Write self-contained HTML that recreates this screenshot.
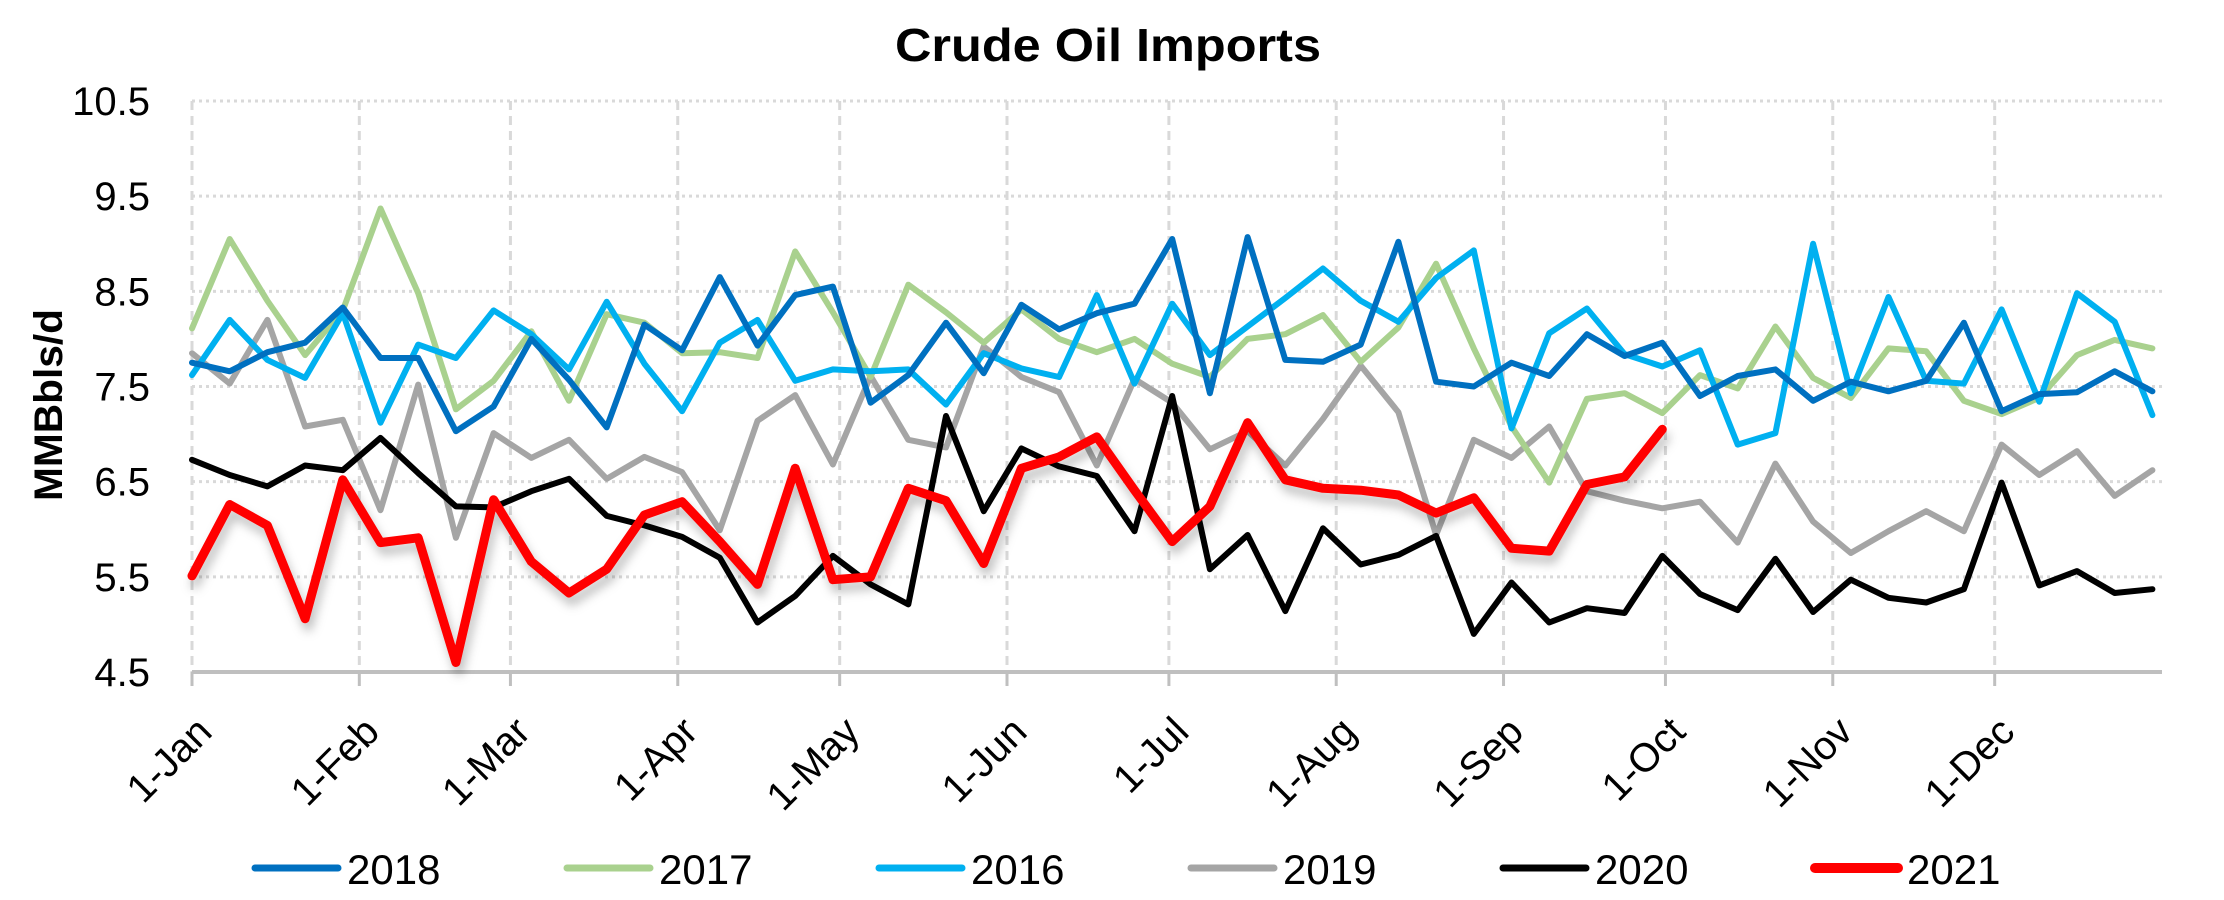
<!DOCTYPE html>
<html><head><meta charset="utf-8"><style>
html,body{margin:0;padding:0;background:#fff;}
svg{display:block;font-family:"Liberation Sans",sans-serif;}
</style></head><body>
<svg id="chart" width="2224" height="900" viewBox="0 0 2224 900" xmlns="http://www.w3.org/2000/svg">
<defs><filter id="shadow" x="-5%" y="-20%" width="110%" height="140%"><feDropShadow dx="3" dy="8" stdDeviation="5" flood-color="#000" flood-opacity="0.25"/></filter></defs>
<text x="1108" y="61" text-anchor="middle" font-size="46" font-weight="bold" textLength="426" lengthAdjust="spacingAndGlyphs">Crude Oil Imports</text>
<text transform="translate(62,405) rotate(-90)" text-anchor="middle" font-size="40" font-weight="bold" textLength="192" lengthAdjust="spacingAndGlyphs">MMBbls/d</text>
<g id="grid"></g><g id="axes"></g><g id="series"></g><g id="legend"></g>
</svg>
<script>
const yTicks = [4.5,5.5,6.5,7.5,8.5,9.5,10.5];
const monthLabels = ["1-Jan","1-Feb","1-Mar","1-Apr","1-May","1-Jun","1-Jul","1-Aug","1-Sep","1-Oct","1-Nov","1-Dec"];
const monthDays = [0,31,59,90,120,151,181,212,243,273,304,334];
const seriesNames = ["2019","2017","2016","2018","2020","2021"];
const s2018 = [7.75,7.66,7.86,7.96,8.33,7.8,7.8,7.03,7.29,8.0,7.57,7.07,8.15,7.88,8.65,7.93,8.46,8.55,7.33,7.62,8.17,7.64,8.36,8.1,8.27,8.37,9.05,7.43,9.07,7.78,7.76,7.94,9.02,7.55,7.5,7.75,7.61,8.05,7.82,7.96,7.4,7.61,7.68,7.35,7.55,7.45,7.56,8.17,7.24,7.42,7.44,7.66,7.45];
const s2017 = [8.11,9.05,8.4,7.83,8.3,9.37,8.48,7.26,7.56,8.08,7.35,8.26,8.17,7.85,7.86,7.8,8.92,8.28,7.6,8.57,8.28,7.96,8.31,8.0,7.86,8.0,7.74,7.6,8.0,8.05,8.25,7.76,8.12,8.79,7.9,7.08,6.49,7.37,7.43,7.22,7.62,7.48,8.13,7.59,7.38,7.9,7.87,7.35,7.21,7.38,7.83,7.99,7.9];
const s2016 = [7.62,8.2,7.78,7.59,8.27,7.12,7.94,7.8,8.3,8.05,7.68,8.39,7.74,7.24,7.96,8.2,7.56,7.68,7.66,7.68,7.31,7.85,7.69,7.6,8.46,7.53,8.37,7.83,8.13,8.43,8.74,8.4,8.18,8.64,8.93,7.06,8.06,8.32,7.84,7.71,7.88,6.89,7.01,9.0,7.43,8.44,7.56,7.53,8.31,7.34,8.48,8.18,7.2];
const s2019 = [7.85,7.53,8.2,7.08,7.15,6.2,7.52,5.91,7.01,6.75,6.94,6.53,6.76,6.6,5.99,7.14,7.41,6.68,7.61,6.94,6.86,7.92,7.6,7.44,6.67,7.58,7.33,6.84,7.03,6.67,7.16,7.72,7.23,5.94,6.94,6.75,7.08,6.4,6.3,6.22,6.29,5.86,6.69,6.08,5.75,5.98,6.19,5.98,6.89,6.57,6.82,6.35,6.62];
const s2020 = [6.73,6.57,6.45,6.67,6.62,6.96,6.59,6.24,6.23,6.4,6.53,6.14,6.04,5.92,5.7,5.02,5.3,5.72,5.42,5.21,7.19,6.19,6.85,6.66,6.56,5.98,7.4,5.58,5.94,5.14,6.01,5.63,5.73,5.93,4.9,5.44,5.02,5.17,5.12,5.72,5.32,5.15,5.69,5.13,5.47,5.28,5.23,5.37,6.49,5.41,5.56,5.33,5.37];
const s2021 = [5.51,6.26,6.04,5.06,6.52,5.86,5.91,4.6,6.31,5.66,5.33,5.58,6.15,6.29,5.87,5.42,6.64,5.47,5.5,6.43,6.3,5.64,6.64,6.76,6.97,6.41,5.87,6.24,7.12,6.52,6.43,6.41,6.36,6.17,6.33,5.8,5.77,6.47,6.55,7.05];

const NS = "http://www.w3.org/2000/svg";
const X0 = 192, X1 = 2162, Y0 = 672, Y1 = 101;
function xDay(d){ return X0 + d/365*(X1-X0); }
function xWeek(i){ return X0 + i*37.7; }
function yVal(v){ return Y0 - (v-4.5)/6*(Y0-Y1); }
function mk(tag, attrs, parent){ const e=document.createElementNS(NS,tag); for(const k in attrs) e.setAttribute(k,attrs[k]); parent.appendChild(e); return e; }

const grid = document.getElementById('grid');
const axes = document.getElementById('axes');
yTicks.forEach(v=>{
  if(v>4.5){
    const l = mk('line',{x1:X0,x2:X1,y1:yVal(v),y2:yVal(v),stroke:'#d9d9d9','stroke-width':3,'stroke-dasharray':'3 4'},grid);
    
    
  }
  const t = mk('text',{x:150,y:yVal(v)+14,'text-anchor':'end','font-size':40},axes);
  t.textContent = v.toFixed(1);
  
  
});
monthDays.forEach((d,k)=>{
  const x = xDay(d);
  const g = mk('line',{x1:x,x2:x,y1:Y1,y2:Y0,stroke:'#d9d9d9','stroke-width':3,'stroke-dasharray':'9 6'},grid);
  
  
  const tk = mk('line',{x1:x,x2:x,y1:Y0,y2:Y0+14,stroke:'#bfbfbf','stroke-width':3},axes);
  
  
  const t = mk('text',{transform:`translate(${x+22},${Y0+62}) rotate(-45)`,'text-anchor':'end','font-size':40},axes);
  t.textContent = monthLabels[k];
  
  
});
const ax = mk('line',{x1:X0,x2:X1,y1:Y0,y2:Y0,stroke:'#bfbfbf','stroke-width':4},axes);



const seriesData = {"2018":s2018,"2017":s2017,"2016":s2016,"2019":s2019,"2020":s2020,"2021":s2021};
const colors = {"2018":"#0070C0","2017":"#A9D18E","2016":"#00B0F0","2019":"#A5A5A5","2020":"#000000","2021":"#FF0000"};
const widths = {"2018":6,"2017":6,"2016":6,"2019":6,"2020":6,"2021":9};
const sg = document.getElementById('series');
seriesNames.forEach(n=>{
  const pts = seriesData[n].map((v,i)=>xWeek(i).toFixed(1)+','+yVal(v).toFixed(1)).join(' ');
  const p = mk('polyline',{points:pts,fill:'none',stroke:colors[n],'stroke-width':widths[n],'stroke-linejoin':'round','stroke-linecap':'round'},sg);
  if(n==="2021") p.setAttribute('filter','url(#shadow)');
  
  
});

const legendOrder = ["2018","2017","2016","2019","2020","2021"];
const lg = document.getElementById('legend');
legendOrder.forEach((n,k)=>{
  const x = 255 + k*312;
  const g = mk('g',{},lg);
  
  
  mk('line',{x1:x,x2:x+83,y1:868,y2:868,stroke:colors[n],'stroke-width':widths[n]+1,'stroke-linecap':'round'},g);
  const t = mk('text',{x:x+92,y:884,'font-size':42},g);
  t.textContent = n;
});
</script>
</body></html>
